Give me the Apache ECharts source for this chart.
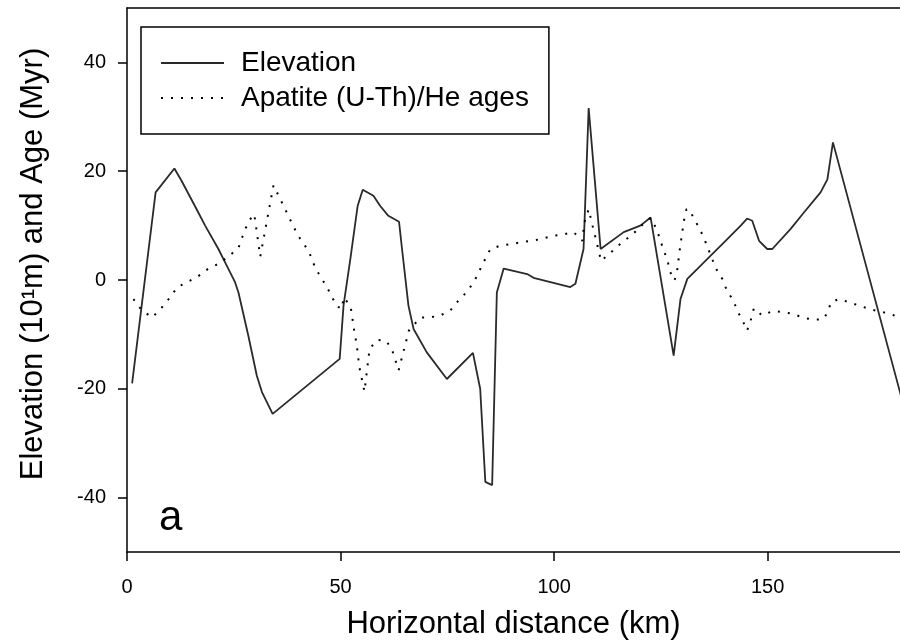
<!DOCTYPE html>
<html>
<head>
<meta charset="utf-8">
<script src="https://cdn.jsdelivr.net/npm/echarts@6/dist/echarts.min.js"></script>
<style>html,body{margin:0;padding:0;background:#fff}#c{width:900px;height:643px}</style>
</head>
<body>
<div id="c"></div>
<script>
// Elevation profile (10^1 m) vs horizontal distance (km)
var elevX = [1.2, 6.7, 11.1, 12.8, 16.3, 18.3, 21.4, 23.0, 25.3, 26.1, 28.4, 30.4, 31.6, 34.1, 49.8, 50.7, 52.3, 54.0, 55.2, 57.7, 59.3, 61.2, 63.7, 64.4, 65.9, 67.1, 70.2, 74.9, 81.0, 82.7, 83.9, 85.5, 86.6, 88.2, 93.7, 95.2, 103.8, 105.0, 106.9, 108.1, 110.9, 116.3, 120.2, 122.6, 128.0, 129.6, 131.2, 133.5, 135.9, 139.8, 143.7, 145.2, 146.4, 148.0, 149.9, 151.1, 155.4, 158.5, 162.4, 164.0, 165.3, 181.2];
var elevY = [-19.0, 16.1, 20.5, 18.2, 13.0, 10.0, 5.7, 3.2, -0.4, -2.3, -10.2, -17.6, -20.6, -24.6, -14.5, -4.7, 3.9, 13.6, 16.6, 15.5, 13.6, 11.8, 10.7, 5.7, -4.7, -9.0, -13.3, -18.2, -13.4, -20.0, -37.1, -37.7, -2.3, 2.1, 1.1, 0.4, -1.3, -0.7, 5.7, 31.6, 5.7, 8.8, 10.0, 11.5, -13.9, -3.5, 0.2, 2.0, 3.9, 6.9, 10.0, 11.3, 10.9, 7.2, 5.7, 5.7, 9.4, 12.4, 16.1, 18.5, 25.3, -21.2];
// Apatite (U-Th)/He ages (Myr)
var ageX = [1.5, 3.4, 5.9, 8.1, 10.1, 11.8, 14.1, 16.7, 18.9, 21.2, 23.6, 26.1, 26.9, 27.9, 29.1, 29.8, 31.2, 34.3, 36.5, 37.6, 38.8, 40.2, 41.7, 42.9, 43.9, 45.2, 46.6, 47.8, 49.1, 50.3, 50.7, 52.3, 52.7, 53.0, 53.8, 54.4, 55.6, 56.8, 58.5, 60.7, 62.0, 63.6, 66.0, 68.7, 70.8, 73.4, 75.7, 77.6, 79.8, 81.6, 82.7, 83.9, 85.1, 87.4, 89.8, 92.1, 94.5, 96.8, 99.5, 102.3, 104.6, 106.6, 107.1, 108.1, 109.3, 109.9, 111.0, 113.2, 115.9, 118.4, 120.6, 122.6, 124.1, 124.9, 125.7, 126.6, 127.1, 128.2, 128.8, 129.4, 130.4, 131.0, 131.6, 132.7, 134.1, 135.2, 136.1, 137.0, 138.0, 139.4, 140.5, 142.0, 143.0, 144.2, 145.1, 145.8, 146.4, 146.8, 148.7, 151.2, 153.6, 155.8, 158.3, 160.6, 163.0, 164.2, 164.8, 166.7, 169.2, 171.4, 173.7, 176.3, 178.7, 180.8];
var ageY = [-3.5, -5.5, -6.9, -5.1, -3.2, -1.3, -0.4, 0.7, 2.0, 2.9, 4.2, 5.9, 7.7, 9.7, 11.5, 12.1, 4.3, 17.4, 13.9, 12.1, 10.1, 8.0, 6.3, 4.6, 2.6, 0.7, -1.0, -2.8, -4.8, -5.3, -3.2, -4.7, -6.5, -8.4, -12.0, -16.0, -20.5, -12.7, -11.0, -11.2, -12.7, -16.6, -9.3, -6.9, -6.9, -6.5, -5.6, -3.8, -2.0, 0.2, 2.0, 3.9, 5.7, 6.3, 6.6, 6.9, 7.2, 7.5, 8.1, 8.4, 8.8, 7.2, 10.6, 13.0, 9.0, 7.2, 3.5, 5.0, 6.9, 8.4, 10.1, 11.4, 9.2, 7.2, 5.4, 3.5, 1.6, -0.1, 1.6, 5.4, 10.9, 13.0, 13.0, 11.4, 9.4, 7.5, 5.7, 3.9, 2.0, 0.2, -2.0, -3.8, -5.8, -7.5, -9.3, -8.3, -6.2, -5.2, -6.5, -5.7, -5.9, -6.2, -6.9, -7.3, -7.2, -5.8, -4.1, -3.5, -4.1, -4.7, -5.3, -5.8, -6.2, -6.9];
var xTicks = [0, 50, 100, 150];
var yTicks = [-40, -20, 0, 20, 40];
var seriesNames = ['Elevation', 'Apatite (U-Th)/He ages'];
var xTitle = 'Horizontal distance (km)';
var yTitle = 'Elevation (10\u00B9m) and Age (Myr)';
var panelLabel = 'a';

function pairs(xs, ys) { return xs.map(function (x, i) { return [x, ys[i]]; }); }

var FONT = '"Liberation Sans", Arial, sans-serif';
var chart = echarts.init(document.getElementById('c'), null, {renderer: 'canvas'});
chart.setOption({
  animation: false,
  backgroundColor: '#fff',
  grid: {left: 127, right: 0, top: 8, bottom: 91, containLabel: false, outerBoundsMode: 'none'},
  xAxis: [{
    type: 'value', min: 0, max: 181,
    axisLine: {show: true, onZero: false, lineStyle: {color: '#000', width: 1.5}},
    axisTick: {show: true, length: 9, inside: false, customValues: xTicks, lineStyle: {color: '#000', width: 1.5}},
    axisLabel: {customValues: xTicks, fontFamily: FONT, fontSize: 20, color: '#000', margin: 25},
    splitLine: {show: false},
    name: xTitle, nameLocation: 'middle', nameGap: 57,
    nameTextStyle: {fontFamily: FONT, fontSize: 31, color: '#000'}
  }, {
    type: 'value', position: 'top', min: 0, max: 181,
    axisLine: {show: true, onZero: false, lineStyle: {color: '#000', width: 1.5}},
    axisTick: {show: false}, axisLabel: {show: false}, splitLine: {show: false}
  }],
  yAxis: {
    type: 'value', min: -50, max: 50,
    axisLine: {show: true, onZero: false, lineStyle: {color: '#000', width: 1.5}},
    axisTick: {show: true, length: 9, customValues: yTicks, lineStyle: {color: '#000', width: 1.5}},
    axisLabel: {customValues: yTicks, fontFamily: FONT, fontSize: 20, color: '#000', margin: 21},
    splitLine: {show: false}
  },
  legend: {
    orient: 'vertical', left: 141, top: 27,
    data: seriesNames,
    itemWidth: 63, itemHeight: 14, itemGap: 7,
    padding: [22, 20, 22, 19],
    borderColor: '#000', borderWidth: 1.5, borderRadius: 0,
    itemStyle: {opacity: 0},
    textStyle: {fontFamily: FONT, fontSize: 28, lineHeight: 28, color: '#000', padding: [0, 0, 0, 12]},
    selectedMode: false
  },
  graphic: [{
    type: 'text', x: 33, y: 264, rotation: Math.PI / 2,
    style: {text: yTitle, font: '31px ' + FONT, fill: '#000', align: 'center', verticalAlign: 'middle'}
  }, {
    type: 'text', x: 159, y: 518,
    style: {text: panelLabel, font: '42px ' + FONT, fill: '#000', align: 'left', verticalAlign: 'middle'}
  }],
  series: [{
    name: seriesNames[0], type: 'line', data: pairs(elevX, elevY),
    showSymbol: false, symbol: 'none',
    lineStyle: {color: '#2a2a2a', width: 1.8, type: 'solid'},
    itemStyle: {color: '#2a2a2a'}
  }, {
    name: seriesNames[1], type: 'line', data: pairs(ageX, ageY),
    showSymbol: false, symbol: 'none',
    lineStyle: {color: '#000', width: 2, type: [2, 8]},
    itemStyle: {color: '#000'}
  }]
});
</script>
</body>
</html>
